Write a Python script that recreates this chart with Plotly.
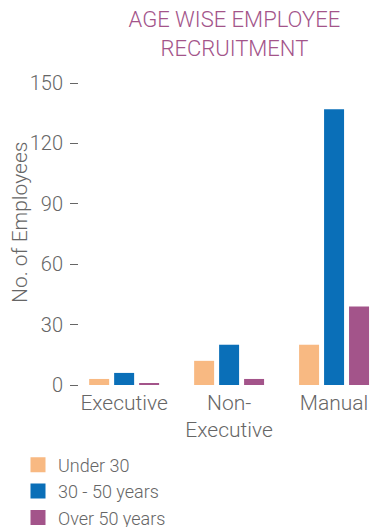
import plotly.graph_objects as go

categories = ["Executive", "Non-<br>Executive", "Manual"]
under_30 = [3, 12, 20]
age_30_50 = [6, 20, 137]
over_50 = [1, 3, 39]
series_names = ["Under 30", "30 - 50 years", "Over 50 years"]
colors = ["#F8B982", "#0A6FB8", "#A3548A"]
y_ticks = [0, 30, 60, 90, 120, 150]

FONT = "Roboto"
GRAY = "#666666"

fig = go.Figure()
for name, vals, col in zip(series_names, [under_30, age_30_50, over_50], colors):
    fig.add_trace(go.Bar(x=categories, y=vals, name=name, marker_color=col,
                         marker_line_width=0, legendgroup=name, showlegend=False))
# legend entries with larger square swatches
for name, col in zip(series_names, colors):
    fig.add_trace(go.Scatter(x=[None], y=[None], mode="markers", name=name,
                             legendgroup=name, hoverinfo="skip",
                             marker=dict(symbol="square", size=15, color=col)))

fig.update_layout(
    width=375, height=527,
    margin=dict(l=79, r=0, t=83, b=142, autoexpand=False),
    paper_bgcolor="white", plot_bgcolor="white",
    barmode="group", bargap=0.286, bargroupgap=0.2,
    font=dict(family=FONT, color=GRAY, size=20, weight=300),
    title=dict(text="AGE WISE EMPLOYEE<br>RECRUITMENT", x=0.625, xanchor="center",
               y=1 - 27/527, yanchor="bottom", yref="container",
               font=dict(family=FONT, size=22, color="#A3548A", weight=300)),
    showlegend=True,
    legend=dict(orientation="v", x=18/375, xanchor="left", xref="container",
                y=1 - 446.5/527, yanchor="top", yref="container",
                itemsizing="trace",
                font=dict(family=FONT, size=18, color=GRAY, weight=300),
                bgcolor="rgba(0,0,0,0)", tracegroupgap=0),
    xaxis=dict(range=[-0.43, 2.39], showgrid=False, showline=False, zeroline=False,
               ticks="", tickangle=0, automargin=False,
               tickfont=dict(size=21, color=GRAY), ticklabelstandoff=3),
    yaxis=dict(range=[0, 150], tickvals=y_ticks, showgrid=False, showline=False,
               zeroline=False, ticks="outside", ticklen=8, tickwidth=1.2,
               tickcolor=GRAY, automargin=False, ticklabelstandoff=3,
               tickfont=dict(size=20, color=GRAY)),
    annotations=[dict(text="No. of Employees", textangle=-90, showarrow=False,
                      xref="paper", yref="paper", x=(19.5 - 79) / 296, y=0.538,
                      xanchor="center", yanchor="middle",
                      font=dict(family=FONT, size=21, color=GRAY, weight=300))],
)

fig.write_html("out.html", config={"displayModeBar": False},
               post_script="document.body.style.margin='0';")
